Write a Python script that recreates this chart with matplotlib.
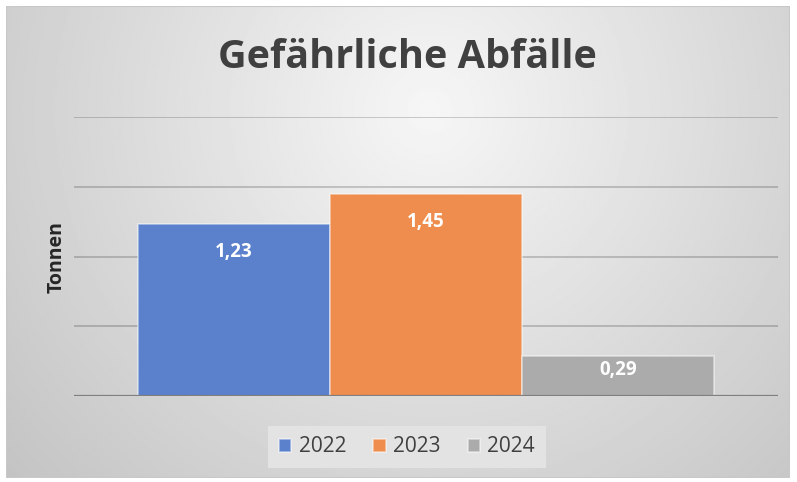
import matplotlib.pyplot as plt
import numpy as np
from matplotlib.patches import Rectangle

# Daten
jahre = ['2022', '2023', '2024']
werte = [1.23, 1.45, 0.29]
farben = ['#5B80CC', '#EE8D4E', '#ABABAB']
labels = ['1,23', '1,45', '0,29']

plt.rcParams['font.family'] = ['Open Sans', 'DejaVu Sans']

fig = plt.figure(figsize=(7.97, 4.82), dpi=100)
fig.patch.set_facecolor('white')

# Hintergrund mit radialem Verlauf (Excel-Stil)
bg = fig.add_axes([6 / 797, 1 - 478 / 482, 784 / 797, 472 / 482], zorder=0)
px, py = np.meshgrid(np.linspace(6, 790, 400), np.linspace(6, 478, 240))
dist = np.hypot(px - 430, (py - 110) * 1.0)
grad = np.clip(0.965 - 0.17 * dist / 480, 0.76, 1)
bg.imshow(grad, cmap='gray', vmin=0, vmax=1, origin='upper', aspect='auto',
          extent=[0, 1, 0, 1])
bg.set_xlim(0, 1)
bg.set_ylim(0, 1)
bg.axis('off')
bg.add_patch(Rectangle((0, 0), 1, 1, fill=False, edgecolor='#c8c8c8', lw=1.5,
                       transform=bg.transAxes))

ax = fig.add_axes([74 / 797, 1 - 396 / 482, 704 / 797, 279 / 482], zorder=1)
ax.patch.set_alpha(0)

x = np.arange(len(jahre)) - 1
bars = ax.bar(x, werte, width=1.0, color=farben, edgecolor=(1, 1, 1, 0.5), linewidth=1.2,
              label=jahre, zorder=3)

ax.set_xlim(-1.833, 1.833)
ax.set_ylim(0, 2.0)
ax.set_yticks([0, 0.5, 1.0, 1.5, 2.0])
ax.grid(axis='y', color='black', alpha=0.2, linewidth=1.3, zorder=0)
ax.tick_params(left=False, bottom=False, labelleft=False, labelbottom=False)
for s in ax.spines.values():
    s.set_visible(False)
ax.axhline(0, color='#7f7f7f', linewidth=1.6, zorder=4)

# Datenbeschriftungen innen am Ende
for b, v, t in zip(bars, werte, labels):
    hpx = v / 2.0 * 279
    off = min(28, hpx * 0.35)
    ax.annotate(t, (b.get_x() + b.get_width() / 2, v), xytext=(0, -off * 0.72),
                textcoords='offset points', ha='center', va='center',
                color='white', fontsize=13.5, fontweight='bold', zorder=5)

fig.text(57 / 797, 1 - 257 / 482, 'Tonnen', rotation=90, ha='center', va='center',
         fontsize=14, fontweight='bold', color='#262626')

fig.text(407 / 797, 1 - 57 / 482, 'Gefährliche Abfälle', ha='center', va='center',
         fontsize=28.5, fontweight='bold', color='#404040')

leg = fig.legend(handles=list(bars), labels=jahre, loc='center',
                 bbox_to_anchor=(407 / 797, 1 - 447 / 482), ncol=3, frameon=True,
                 fontsize=15, handlelength=0.6, handleheight=0.6, handletextpad=0.35,
                 columnspacing=1.3, borderpad=0.5, fancybox=False)
leg.get_frame().set_facecolor('#e3e3e3')
leg.get_frame().set_edgecolor('none')
leg.get_frame().set_alpha(1)
for t in leg.get_texts():
    t.set_color('#404040')

plt.savefig('out.png', dpi=100)
